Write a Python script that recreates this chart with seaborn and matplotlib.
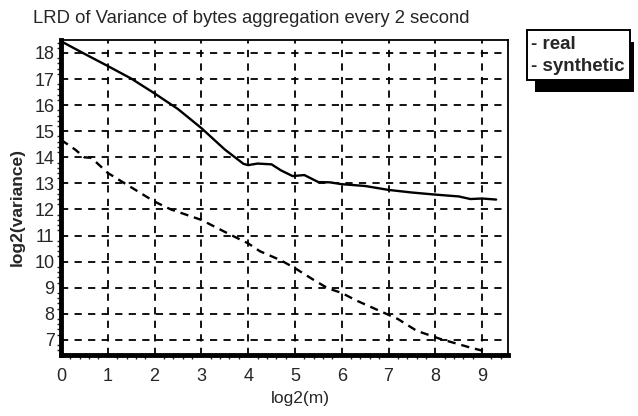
import seaborn as sns
import matplotlib.pyplot as plt
import pandas as pd
import numpy as np
from matplotlib.patches import Rectangle
from matplotlib.ticker import MultipleLocator

# values
real_x = [0, 0.5, 1, 1.5, 2, 2.5, 3, 3.5, 3.9, 4.0, 4.2, 4.5, 4.7, 4.95, 5.2,
          5.5, 5.75, 6, 6.5, 7, 7.5, 8, 8.5, 8.75, 9, 9.3]
real_y = [18.45, 17.97, 17.5, 17.02, 16.45, 15.85, 15.12, 14.3, 13.75, 13.7, 13.76,
          13.73, 13.5, 13.28, 13.32, 13.05, 13.04, 12.97, 12.9, 12.75, 12.65, 12.57,
          12.5, 12.4, 12.42, 12.38]
synth_x = [0, 0.3, 0.5, 0.65, 1, 1.5, 2, 2.35, 3, 3.6, 4, 4.25, 4.7, 5, 5.4, 5.7,
           6, 6.3, 6.9, 7.2, 7.6, 8.1, 8.7, 9.1]
synth_y = [14.67, 14.3, 14.0, 13.98, 13.4, 12.85, 12.3, 12.0, 11.6, 11.05, 10.7,
           10.4, 10.05, 9.75, 9.3, 8.98, 8.8, 8.52, 8.04, 7.8, 7.35, 7.04, 6.73, 6.54]
x_ticks = list(range(0, 10))
y_ticks = list(range(7, 19))

df = pd.concat([
    pd.DataFrame({'m': real_x, 'var': real_y, 'series': 'real'}),
    pd.DataFrame({'m': synth_x, 'var': synth_y, 'series': 'synthetic'}),
])

sns.set_style('white')
plt.rcParams['font.family'] = ['Liberation Sans', 'DejaVu Sans']

fig = plt.figure(figsize=(6.38, 4.16), dpi=100)
ax = fig.add_axes([0.0956, 0.1466, 0.7004, 0.7574])

sns.lineplot(data=df, x='m', y='var', style='series', color='black',
             dashes={'real': '', 'synthetic': (3.5, 2.5)}, linewidth=1.7,
             ax=ax, legend=False, sort=False)

ax.set_xlim(0, 9.55)
ax.set_ylim(6.42, 18.5)
ax.set_xticks(x_ticks)
ax.set_yticks(y_ticks)
ax.xaxis.set_minor_locator(MultipleLocator(0.2))
ax.yaxis.set_minor_locator(MultipleLocator(0.2))
ax.tick_params(axis='both', which='major', labelsize=13, color='black', width=1.2)
ax.tick_params(axis='x', which='major', direction='out', length=6, pad=3)
ax.tick_params(axis='y', which='major', direction='inout', length=9, pad=0)
ax.tick_params(axis='x', which='minor', direction='out', length=3, width=1, bottom=True)
ax.tick_params(axis='y', which='minor', direction='out', length=3, width=1, left=True)

ax.grid(True, which='major', color='black', linestyle=(0, (4, 3.5)), linewidth=1.3)

for side in ['left', 'bottom']:
    ax.spines[side].set_linewidth(3.5)
    ax.spines[side].set_color('black')
for side in ['top', 'right']:
    ax.spines[side].set_linewidth(1.3)
    ax.spines[side].set_color('black')

ax.set_xlabel('log2(m)', fontsize=12.5)
ax.set_ylabel('log2(variance)', fontsize=12.5, fontweight='bold')
ax.xaxis.set_label_coords(0.535, -0.115)
ax.yaxis.set_label_coords(-0.082, 0.47)
fig.text(0.052, 0.945, 'LRD of Variance of bytes aggregation every 2 second', fontsize=13.3)

# legend box with drop shadow
fig.patches.append(Rectangle((0.838, 0.778), 0.155, 0.12, transform=fig.transFigure,
                             facecolor='black', edgecolor='none', zorder=1))
fig.patches.append(Rectangle((0.826, 0.808), 0.161, 0.12, transform=fig.transFigure,
                             facecolor='white', edgecolor='black', linewidth=1.4, zorder=2))
fig.text(0.832, 0.893, '- real', fontsize=13.5, fontweight='bold', va='center', zorder=3)
fig.text(0.832, 0.84, '- synthetic', fontsize=13.5, fontweight='bold', va='center', zorder=3)

fig.savefig('out.png', dpi=100)
